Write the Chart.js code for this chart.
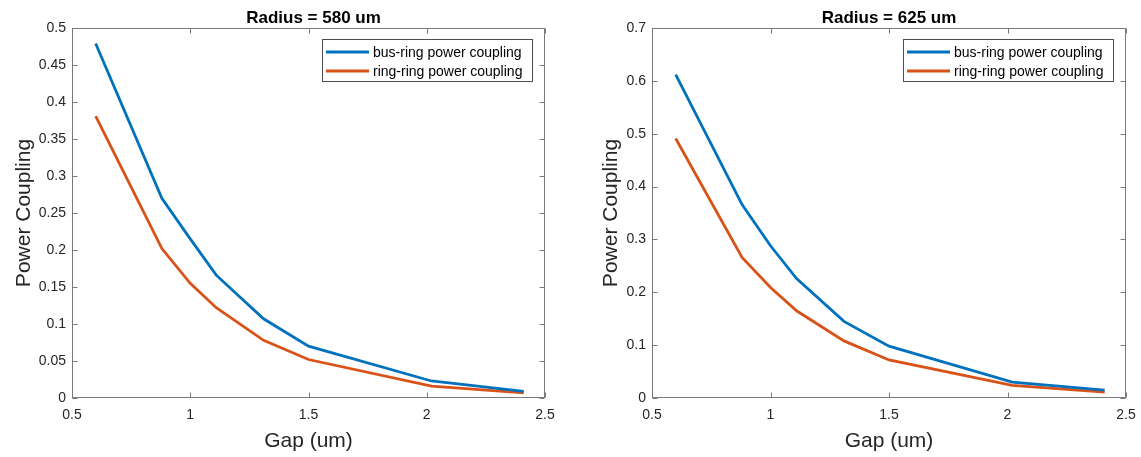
<!DOCTYPE html>
<html><head><meta charset="utf-8">
<script src="https://cdn.jsdelivr.net/npm/chart.js@4/dist/chart.umd.min.js"></script>
<style>
html,body{margin:0;padding:0;background:#fff;width:1141px;height:457px;overflow:hidden}
canvas{position:absolute;top:0}
</style></head><body>
<canvas id="c1" width="570" height="457" style="left:0"></canvas>
<canvas id="c2" width="571" height="457" style="left:570px"></canvas>
<script>
// ---- data ----
const gap = [0.6, 0.88, 1.0, 1.11, 1.31, 1.5, 2.02, 2.41];
const busRing580 = [0.479, 0.270, 0.215, 0.166, 0.107, 0.070, 0.023, 0.009];
const ringRing580 = [0.381, 0.202, 0.155, 0.122, 0.078, 0.052, 0.016, 0.007];
const busRing625 = [0.612, 0.366, 0.288, 0.226, 0.145, 0.098, 0.030, 0.015];
const ringRing625 = [0.491, 0.266, 0.209, 0.165, 0.108, 0.072, 0.024, 0.011];
const seriesNames = ['bus-ring power coupling', 'ring-ring power coupling'];
const titles = ['Radius = 580 um', 'Radius = 625 um'];
const xTicks = [0.5, 1, 1.5, 2, 2.5];
const xTickLabels = ['0.5', '1', '1.5', '2', '2.5'];
const yTicks580 = [0, 0.05, 0.1, 0.15, 0.2, 0.25, 0.3, 0.35, 0.4, 0.45, 0.5];
const yTickLabels580 = ['0', '0.05', '0.1', '0.15', '0.2', '0.25', '0.3', '0.35', '0.4', '0.45', '0.5'];
const yTicks625 = [0, 0.1, 0.2, 0.3, 0.4, 0.5, 0.6, 0.7];
const yTickLabels625 = ['0', '0.1', '0.2', '0.3', '0.4', '0.5', '0.6', '0.7'];
const xLabel = 'Gap (um)';
const yLabel = 'Power Coupling';

const BLUE = '#0072BD', ORANGE = '#D95319';
const FONT = '"Liberation Sans", Arial, sans-serif';

function matlabPlugin(title, yTitleBaseline, titleShift) {
  return {
    id: 'matlab',
    afterDatasetsDraw(chart) {
      const ctx = chart.ctx, a = chart.chartArea;
      const xs = chart.scales.x, ys = chart.scales.y;
      ctx.save();
      // box
      ctx.strokeStyle = '#7a7a7a';
      ctx.lineWidth = 1;
      const L = Math.round(a.left) + 0.5, R = Math.round(a.right) - 0.5;
      const T = Math.round(a.top) + 0.5, B = Math.round(a.bottom) - 0.5;
      ctx.strokeRect(L, T, R - L, B - T);
      // inward ticks
      ctx.beginPath();
      xs.ticks.forEach(t => {
        const px = Math.round(xs.getPixelForValue(t.value)) + 0.5;
        ctx.moveTo(px, B); ctx.lineTo(px, B - 5);
        ctx.moveTo(px, T); ctx.lineTo(px, T + 5);
      });
      ys.ticks.forEach(t => {
        const py = Math.round(ys.getPixelForValue(t.value)) + 0.5;
        ctx.moveTo(L, py); ctx.lineTo(L + 5, py);
        ctx.moveTo(R, py); ctx.lineTo(R - 5, py);
      });
      ctx.stroke();
      const cx = (a.left + a.right) / 2;
      // title
      ctx.fillStyle = '#000';
      ctx.font = 'bold 17px ' + FONT;
      ctx.textAlign = 'center';
      ctx.textBaseline = 'alphabetic';
      ctx.fillText(title, cx + titleShift, 23);
      // axis titles
      ctx.fillStyle = '#262626';
      ctx.font = '21px ' + FONT;
      ctx.fillText(xLabel, cx, 447);
      ctx.save();
      ctx.translate(yTitleBaseline, (a.top + a.bottom) / 2);
      ctx.rotate(-Math.PI / 2);
      ctx.fillText(yLabel, 0, 0);
      ctx.restore();
      // legend
      const lw = 210, lh = 42;
      const lx = Math.round(a.right) - 13 - lw, ly = Math.round(a.top) + 11;
      ctx.fillStyle = '#fff';
      ctx.fillRect(lx, ly, lw, lh);
      ctx.strokeStyle = '#4d4d4d';
      ctx.lineWidth = 1;
      ctx.strokeRect(lx + 0.5, ly + 0.5, lw, lh);
      ctx.font = '14px ' + FONT;
      ctx.textAlign = 'left';
      ctx.textBaseline = 'middle';
      chart.data.datasets.forEach((ds, i) => {
        const y = ly + 13 + i * 19;
        ctx.strokeStyle = ds.borderColor;
        ctx.lineWidth = 2.8;
        ctx.beginPath(); ctx.moveTo(lx + 4, y); ctx.lineTo(lx + 47, y); ctx.stroke();
        ctx.fillStyle = '#000';
        ctx.fillText(ds.label, lx + 51, y + 1);
      });
      ctx.restore();
    }
  };
}

function makeChart(id, bus, ring, yTicks, yLabels, yMax, leftW, rightPad, title, yTitleBaseline, titleShift) {
  const tickFont = { family: FONT, size: 14 };
  return new Chart(document.getElementById(id), {
    type: 'line',
    data: {
      datasets: [
        { label: seriesNames[0], data: gap.map((g, i) => ({ x: g, y: bus[i] })), borderColor: BLUE, borderWidth: 2.8, pointRadius: 0, tension: 0, fill: false },
        { label: seriesNames[1], data: gap.map((g, i) => ({ x: g, y: ring[i] })), borderColor: ORANGE, borderWidth: 2.8, pointRadius: 0, tension: 0, fill: false }
      ]
    },
    options: {
      responsive: false,
      animation: false,
      devicePixelRatio: 1,
      layout: { padding: { top: 28, right: rightPad, left: 0, bottom: 0 } },
      plugins: { legend: { display: false }, title: { display: false }, tooltip: { enabled: false } },
      scales: {
        x: {
          type: 'linear', min: 0.5, max: 2.5,
          afterBuildTicks: s => { s.ticks = xTicks.map(v => ({ value: v })); },
          afterFit: s => { s.height = 59; },
          grid: { display: false, drawTicks: false, tickLength: 0 },
          border: { display: false },
          ticks: { font: { family: FONT, size: 14, lineHeight: 2.06 }, color: '#262626', padding: 3, maxRotation: 0, autoSkip: false,
                   callback: (v, i) => xTickLabels[i] }
        },
        y: {
          type: 'linear', min: 0, max: yMax,
          afterBuildTicks: s => { s.ticks = yTicks.map(v => ({ value: v })); },
          afterFit: s => { s.width = leftW; },
          grid: { display: false, drawTicks: false, tickLength: 0 },
          border: { display: false },
          ticks: { font: tickFont, color: '#262626', padding: 6, autoSkip: false,
                   callback: (v, i) => yLabels[i] }
        }
      }
    },
    plugins: [matlabPlugin(title, yTitleBaseline, titleShift)]
  });
}

makeChart('c1', busRing580, ringRing580, yTicks580, yTickLabels580, 0.5, 72, 25, titles[0], 30, 5);
makeChart('c2', busRing625, ringRing625, yTicks625, yTickLabels625, 0.7, 82, 15, titles[1], 47, 0);
</script>
</body></html>
